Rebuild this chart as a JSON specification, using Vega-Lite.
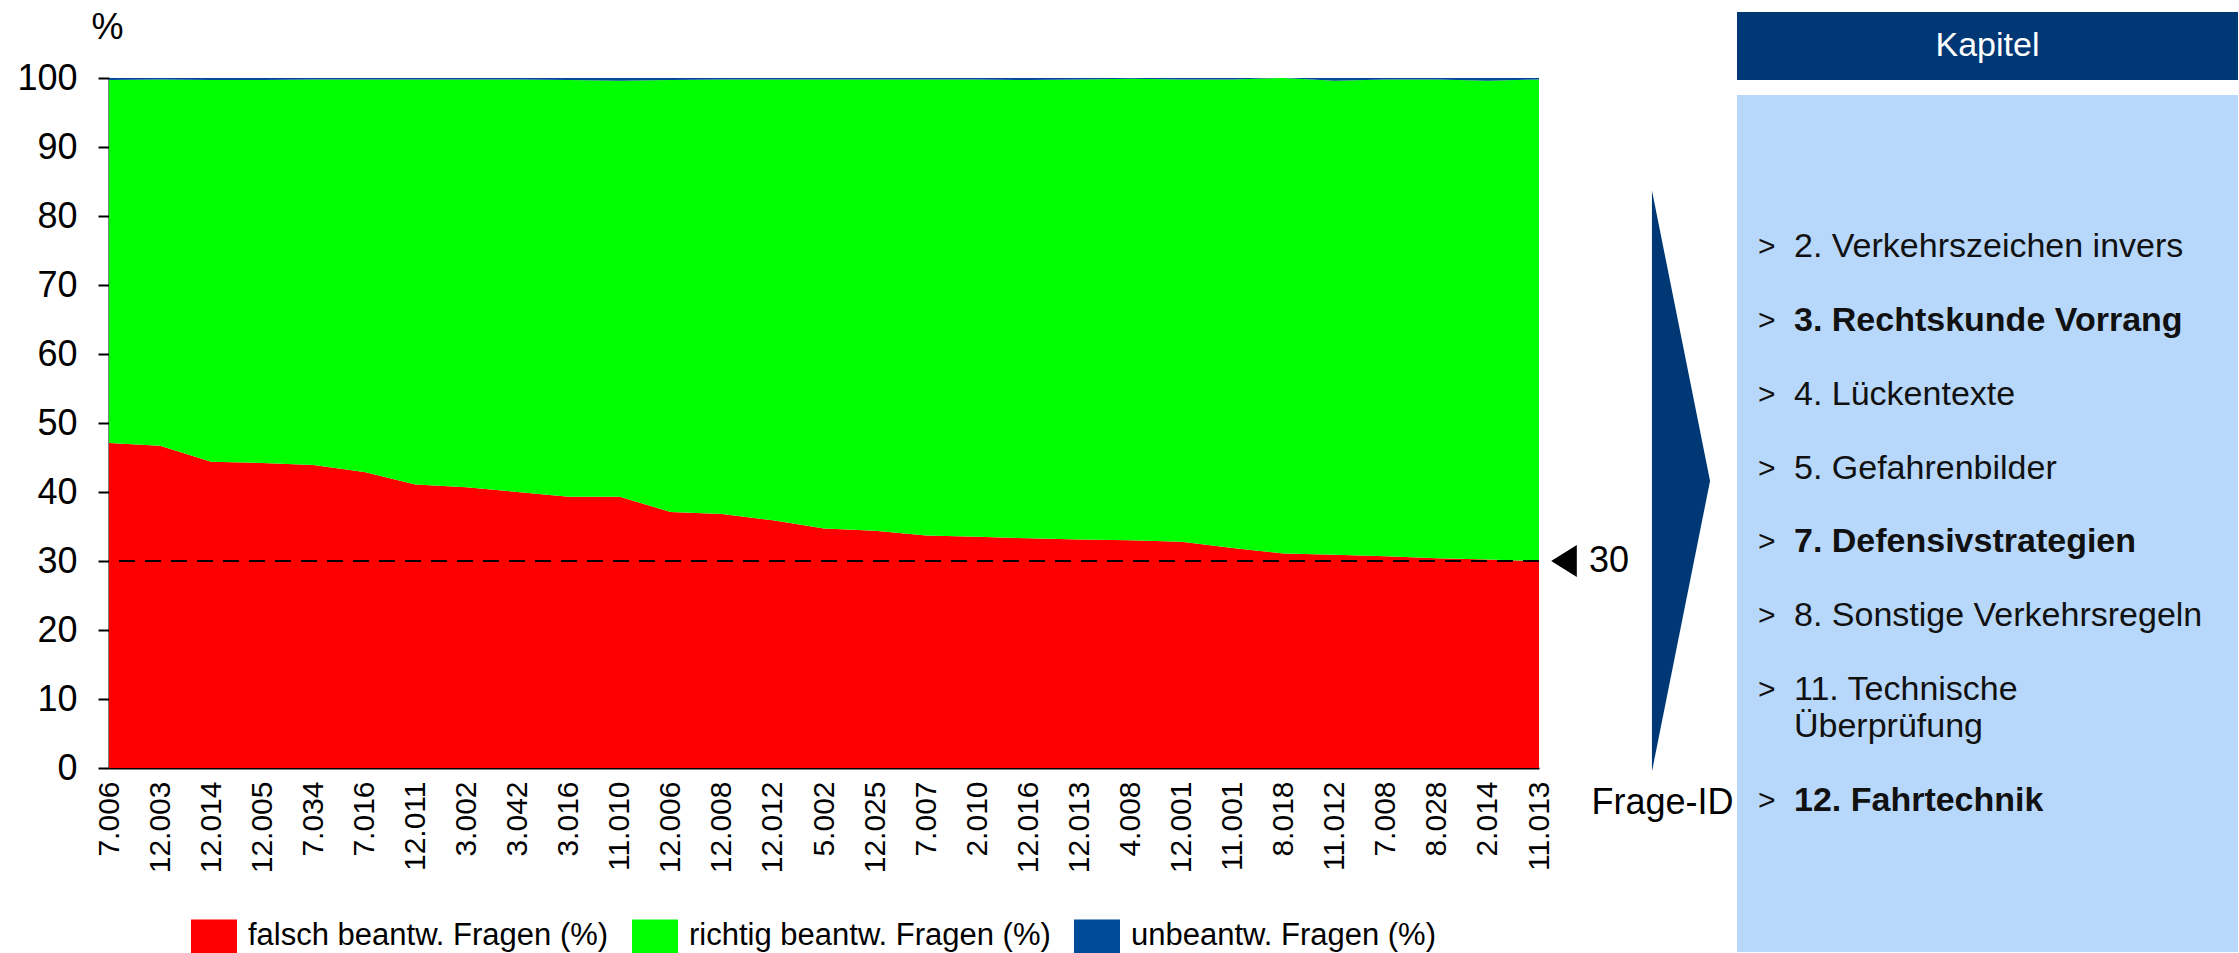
{
  "$schema": "https://vega.github.io/schema/vega-lite/v6.json",
  "background": "white",
  "padding": {"left": 16, "top": 9, "right": 2, "bottom": 0},
  "autosize": {"type": "pad"},
  "config": {"font": "Liberation Sans", "view": {"stroke": null}},
  "spacing": 3,
  "resolve": {"scale": {"color": "independent"}, "legend": {"color": "independent"}},
  "hconcat": [
    {
      "width": 1430,
      "height": 756,
      "layer": [
        {
          "data": {"values": [
            {"frage": "7.006", "falsch": 47.1, "richtig": 52.6, "unbeantw": 0.3},
            {"frage": "12.003", "falsch": 46.7, "richtig": 53.1, "unbeantw": 0.2},
            {"frage": "12.014", "falsch": 44.4, "richtig": 55.3, "unbeantw": 0.3},
            {"frage": "12.005", "falsch": 44.2, "richtig": 55.5, "unbeantw": 0.3},
            {"frage": "7.034", "falsch": 43.9, "richtig": 55.9, "unbeantw": 0.2},
            {"frage": "7.016", "falsch": 42.9, "richtig": 56.9, "unbeantw": 0.2},
            {"frage": "12.011", "falsch": 41.1, "richtig": 58.7, "unbeantw": 0.2},
            {"frage": "3.002", "falsch": 40.7, "richtig": 59.1, "unbeantw": 0.2},
            {"frage": "3.042", "falsch": 40.0, "richtig": 59.8, "unbeantw": 0.2},
            {"frage": "3.016", "falsch": 39.3, "richtig": 60.4, "unbeantw": 0.3},
            {"frage": "11.010", "falsch": 39.3, "richtig": 60.3, "unbeantw": 0.4},
            {"frage": "12.006", "falsch": 37.1, "richtig": 62.6, "unbeantw": 0.3},
            {"frage": "12.008", "falsch": 36.8, "richtig": 63.0, "unbeantw": 0.2},
            {"frage": "12.012", "falsch": 35.9, "richtig": 63.9, "unbeantw": 0.2},
            {"frage": "5.002", "falsch": 34.7, "richtig": 65.1, "unbeantw": 0.2},
            {"frage": "12.025", "falsch": 34.4, "richtig": 65.4, "unbeantw": 0.2},
            {"frage": "7.007", "falsch": 33.7, "richtig": 66.1, "unbeantw": 0.2},
            {"frage": "2.010", "falsch": 33.5, "richtig": 66.3, "unbeantw": 0.2},
            {"frage": "12.016", "falsch": 33.3, "richtig": 66.4, "unbeantw": 0.3},
            {"frage": "12.013", "falsch": 33.1, "richtig": 66.7, "unbeantw": 0.2},
            {"frage": "4.008", "falsch": 33.0, "richtig": 66.9, "unbeantw": 0.1},
            {"frage": "12.001", "falsch": 32.8, "richtig": 67.0, "unbeantw": 0.2},
            {"frage": "11.001", "falsch": 31.9, "richtig": 67.9, "unbeantw": 0.2},
            {"frage": "8.018", "falsch": 31.1, "richtig": 68.9, "unbeantw": 0.0},
            {"frage": "11.012", "falsch": 30.9, "richtig": 68.7, "unbeantw": 0.4},
            {"frage": "7.008", "falsch": 30.7, "richtig": 69.1, "unbeantw": 0.2},
            {"frage": "8.028", "falsch": 30.4, "richtig": 69.4, "unbeantw": 0.2},
            {"frage": "2.014", "falsch": 30.2, "richtig": 69.4, "unbeantw": 0.4},
            {"frage": "11.013", "falsch": 30.0, "richtig": 69.8, "unbeantw": 0.2}
          ]},
          "transform": [{"fold": ["falsch", "richtig", "unbeantw"], "as": ["reihe", "wert"]}],
          "mark": {"type": "area", "interpolate": "linear", "opacity": 1},
          "encoding": {
            "x": {
              "field": "frage", "type": "ordinal",
              "sort": ["7.006","12.003","12.014","12.005","7.034","7.016","12.011","3.002","3.042","3.016","11.010","12.006","12.008","12.012","5.002","12.025","7.007","2.010","12.016","12.013","4.008","12.001","11.001","8.018","11.012","7.008","8.028","2.014","11.013"],
              "scale": {"type": "point", "padding": 0},
              "axis": {
                "title": "Frage-ID", "labelAngle": -90, "labelAlign": "right", "labelBaseline": "middle",
                "labelFontSize": 30, "labelColor": "black", "labelPadding": 13, "ticks": false,
                "domainColor": "black", "domainWidth": 2, "labelOverlap": false, "labelFlush": false, "grid": false,
                "titleFontSize": 36, "titleFontWeight": "normal", "titleColor": "black", "titleAngle": 0,
                "titleX": 1482, "titleY": 34, "titleAlign": "left", "titleBaseline": "middle", "titleAnchor": "start"
              }
            },
            "y": {
              "field": "wert", "type": "quantitative", "stack": "zero",
              "scale": {"domain": [0, 100], "nice": false, "range": [756, 66]},
              "axis": {
                "title": "%", "values": [0, 10, 20, 30, 40, 50, 60, 70, 80, 90, 100],
                "labelFontSize": 36, "labelColor": "black", "labelPadding": 21, "labelFlush": false, "labelOverlap": false,
                "tickSize": 11, "tickWidth": 2, "tickColor": "black", "domainColor": "black", "domainWidth": 2, "grid": false,
                "titleAngle": 0, "titleX": -2, "titleY": -2, "titleAlign": "center", "titleBaseline": "top",
                "titleFontSize": 36, "titleFontWeight": "normal", "titleColor": "black"
              }
            },
            "color": {
              "field": "reihe", "type": "nominal",
              "scale": {"domain": ["falsch", "richtig", "unbeantw"], "range": ["#FF0000", "#00FF00", "#004A9A"]},
              "legend": {
                "title": null, "orient": "none", "legendX": 82, "legendY": 901, "direction": "horizontal",
                "symbolType": "M -1 -0.74 L 1 -0.74 L 1 0.74 L -1 0.74 Z", "symbolSize": 2116, "symbolStrokeWidth": 0,
                "symbolOpacity": 1,
                "labelFontSize": 31, "labelColor": "black", "labelOffset": 11, "columnPadding": 23, "padding": 0, "labelLimit": 0,
                "labelExpr": "datum.label == 'falsch' ? 'falsch beantw. Fragen (%)' : datum.label == 'richtig' ? 'richtig beantw. Fragen (%)' : 'unbeantw. Fragen (%)'"
              }
            },
            "order": {"field": "reihe", "sort": "ascending"}
          }
        },
        {
          "data": {"values": [{}]},
          "mark": {"type": "rule", "color": "black", "strokeWidth": 2, "strokeDash": [16, 10]},
          "encoding": {"y": {"datum": 30}}
        },
        {
          "data": {"values": [{}]},
          "mark": {"type": "point", "shape": "M 0.8 -1 L -0.8 0 L 0.8 1 Z", "size": 1024, "filled": true, "color": "black", "opacity": 1, "xOffset": 25},
          "encoding": {"x": {"value": "width"}, "y": {"datum": 30}}
        },
        {
          "data": {"values": [{}]},
          "mark": {"type": "text", "text": "30", "align": "left", "baseline": "middle", "fontSize": 36, "color": "black", "dx": 50},
          "encoding": {"x": {"value": "width"}, "y": {"datum": 30}}
        },
        {
          "data": {"values": [{}]},
          "mark": {"type": "point", "shape": "M -0.1 -1 L 0.1 0 L -0.1 1 Z", "size": 337561, "filled": true, "color": "#003876", "opacity": 1, "strokeWidth": 0, "xOffset": 142},
          "encoding": {"x": {"value": "width"}, "y": {"datum": 41.6}}
        }
      ]
    },
    {
      "spacing": 15,
      "vconcat": [
        {
          "width": 501,
          "height": 68,
          "view": {"fill": "#003876", "stroke": null},
          "data": {"values": [{"titel": "Kapitel"}]},
          "mark": {"type": "text", "fontSize": 34, "color": "white", "align": "center", "baseline": "middle"},
          "encoding": {"text": {"field": "titel"}}
        },
        {
          "width": 501,
          "height": 857,
          "view": {"fill": "#B8D8FB", "stroke": null},
          "data": {"values": [
            {"zeile": "2. Verkehrszeichen invers", "hervorgehoben": false, "fortsetzung": false},
            {"zeile": "3. Rechtskunde Vorrang", "hervorgehoben": true, "fortsetzung": false},
            {"zeile": "4. Lückentexte", "hervorgehoben": false, "fortsetzung": false},
            {"zeile": "5. Gefahrenbilder", "hervorgehoben": false, "fortsetzung": false},
            {"zeile": "7. Defensivstrategien", "hervorgehoben": true, "fortsetzung": false},
            {"zeile": "8. Sonstige Verkehrsregeln", "hervorgehoben": false, "fortsetzung": false},
            {"zeile": "11. Technische", "hervorgehoben": false, "fortsetzung": false},
            {"zeile": "Überprüfung", "hervorgehoben": false, "fortsetzung": true},
            {"zeile": "12. Fahrtechnik", "hervorgehoben": true, "fortsetzung": false}
          ]},
          "encoding": {
            "y": {
              "field": "zeile", "type": "nominal", "axis": null,
              "scale": {"type": "point", "padding": 0, "range": [152, 706], "domain": [
                "2. Verkehrszeichen invers", "_1", "3. Rechtskunde Vorrang", "_2", "4. Lückentexte", "_3",
                "5. Gefahrenbilder", "_4", "7. Defensivstrategien", "_5", "8. Sonstige Verkehrsregeln", "_6",
                "11. Technische", "Überprüfung", "_7", "12. Fahrtechnik"
              ]}
            }
          },
          "layer": [
            {
              "transform": [{"filter": "!datum.fortsetzung"}],
              "mark": {"type": "text", "text": ">", "align": "left", "baseline": "middle", "fontSize": 30, "dx": -229.5, "color": "#111111"}
            },
            {
              "transform": [{"filter": "!datum.hervorgehoben"}],
              "mark": {"type": "text", "align": "left", "baseline": "middle", "fontSize": 34, "dx": -193.5, "color": "#111111"},
              "encoding": {"text": {"field": "zeile"}}
            },
            {
              "transform": [{"filter": "datum.hervorgehoben"}],
              "mark": {"type": "text", "align": "left", "baseline": "middle", "fontSize": 34, "fontWeight": "bold", "dx": -193.5, "color": "#111111"},
              "encoding": {"text": {"field": "zeile"}}
            }
          ]
        }
      ]
    }
  ]
}
